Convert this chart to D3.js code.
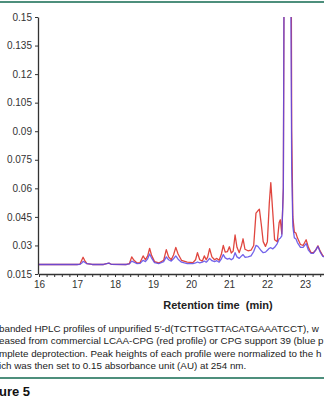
<!DOCTYPE html>
<html lang="en">
<head>
    <meta charset="UTF-8">
    <title>HPLC profiles</title>
    <script src="https://d3js.org/d3.v7.min.js"></script>
    <style>
        body { margin: 0; background: #fff; }
        svg { display: block; font-family: "Liberation Sans", Arial, sans-serif; }
    </style>
</head>
<body>
    <svg id="chart"></svg>
    <script>
        // retention time (min)
        const times = [16.00, 16.50, 17.00, 17.08, 17.13, 17.16, 17.20, 17.26, 17.40, 17.70, 17.78, 17.84, 17.90,
            18.30, 18.38, 18.44, 18.50, 18.58, 18.66, 18.74, 18.80, 18.86, 18.91, 18.96, 19.04, 19.15, 19.28,
            19.35, 19.41, 19.48, 19.54, 19.60, 19.66, 19.75, 19.90, 20.05, 20.12, 20.17, 20.23, 20.30, 20.35,
            20.40, 20.44, 20.49, 20.55, 20.62, 20.68, 20.74, 20.80, 20.85, 20.90, 20.96, 21.01, 21.06, 21.11,
            21.16, 21.21, 21.27, 21.33, 21.37, 21.42, 21.50, 21.58, 21.65, 21.71, 21.76, 21.80, 21.85, 21.90,
            21.96, 22.01, 22.06, 22.10, 22.15, 22.20, 22.27, 22.32, 22.35, 22.39, 22.43, 22.46, 22.54, 22.63,
            22.65, 22.68, 22.72, 22.76, 22.80, 22.88, 22.95, 23.03, 23.09, 23.16, 23.22, 23.28, 23.34, 23.40,
            23.47, 23.55, 23.70, 24.00];

        // LCAA-CPG (red profile), AU
        const redProfile = [0.0200, 0.0200, 0.0200, 0.0202, 0.0225, 0.0238, 0.0222, 0.0205, 0.0200, 0.0200, 0.0205, 0.0207, 0.0201,
            0.0200, 0.0205, 0.0240, 0.0222, 0.0208, 0.0210, 0.0245, 0.0225, 0.0245, 0.0285, 0.0250, 0.0215, 0.0208, 0.0222,
            0.0278, 0.0240, 0.0225, 0.0250, 0.0290, 0.0255, 0.0222, 0.0212, 0.0210, 0.0225, 0.0262, 0.0225, 0.0218, 0.0245,
            0.0225, 0.0240, 0.0283, 0.0240, 0.0225, 0.0232, 0.0222, 0.0255, 0.0300, 0.0265, 0.0268, 0.0293, 0.0260, 0.0270,
            0.0355, 0.0290, 0.0262, 0.0300, 0.0335, 0.0280, 0.0272, 0.0275, 0.0300, 0.0470, 0.0482, 0.0490, 0.0410, 0.0320,
            0.0295, 0.0320, 0.0520, 0.0630, 0.0480, 0.0330, 0.0320, 0.0420, 0.0435, 0.0360, 0.0600, 0.2300, 0.2600, 0.2300,
            0.0900, 0.0450, 0.0370, 0.0365, 0.0340, 0.0305, 0.0300, 0.0330, 0.0290, 0.0262, 0.0262, 0.0275, 0.0298, 0.0270,
            0.0245, 0.0240, 0.0235, 0.0232];

        // CPG support 39 (blue profile), AU
        const blueProfile = [0.0200, 0.0200, 0.0200, 0.0201, 0.0208, 0.0216, 0.0212, 0.0204, 0.0200, 0.0200, 0.0205, 0.0207, 0.0201,
            0.0200, 0.0203, 0.0218, 0.0212, 0.0205, 0.0206, 0.0222, 0.0215, 0.0230, 0.0255, 0.0235, 0.0210, 0.0205, 0.0215,
            0.0240, 0.0225, 0.0218, 0.0230, 0.0245, 0.0228, 0.0212, 0.0205, 0.0204, 0.0208, 0.0213, 0.0208, 0.0212, 0.0218,
            0.0212, 0.0220, 0.0232, 0.0220, 0.0215, 0.0220, 0.0212, 0.0230, 0.0252, 0.0235, 0.0228, 0.0232, 0.0225, 0.0232,
            0.0262, 0.0240, 0.0232, 0.0245, 0.0252, 0.0238, 0.0240, 0.0245, 0.0268, 0.0300, 0.0295, 0.0285, 0.0272, 0.0262,
            0.0265, 0.0275, 0.0285, 0.0288, 0.0282, 0.0290, 0.0310, 0.0335, 0.0338, 0.0350, 0.0600, 0.2300, 0.2600, 0.1500,
            0.0700, 0.0400, 0.0340, 0.0335, 0.0315, 0.0290, 0.0290, 0.0310, 0.0275, 0.0258, 0.0258, 0.0275, 0.0295, 0.0265,
            0.0242, 0.0238, 0.0233, 0.0230];

        const xTicks = [16, 17, 18, 19, 20, 21, 22, 23];
        const yTicks = [0.015, 0.03, 0.045, 0.06, 0.075, 0.09, 0.105, 0.12, 0.135, 0.15];
        const yTickLabels = ["0.015", "0.03", "0.045", "0.06", "0.075", "0.09", "0.105", "0.12", "0.135", "0.15"];

        const captionLines = [
            "banded HPLC profiles of unpurified 5\u2032-d(TCTTGGTTACATGAAATCCT), w",
            "eased from commercial LCAA-CPG (red profile) or CPG support 39 (blue p",
            "mplete deprotection. Peak heights of each profile were normalized to the h",
            "ich was then set to 0.15 absorbance unit (AU) at 254 nm."
        ];

        const width = 324, height = 400;
        const svg = d3.select("#chart").attr("width", width).attr("height", height);

        const x = d3.scaleLinear().domain([16, 24]).range([39, 343]);
        const y = d3.scaleLinear().domain([0.015, 0.15]).range([274, 17]);

        // green frame rules
        svg.append("rect").attr("x", 0).attr("y", 1).attr("width", width).attr("height", 2).attr("fill", "#4d8f7c");
        svg.append("rect").attr("x", 0).attr("y", 377).attr("width", width).attr("height", 2).attr("fill", "#4d8f7c");

        svg.append("clipPath").attr("id", "plot-clip")
            .append("rect").attr("x", 38).attr("y", 17).attr("width", width - 38).attr("height", 257);

        const data = times.map((t, i) => ({ t: t, red: redProfile[i], blue: blueProfile[i] }));

        const lineRed = d3.line().x(d => x(d.t)).y(d => y(d.red));
        const lineBlue = d3.line().x(d => x(d.t)).y(d => y(d.blue));

        const plot = svg.append("g").attr("clip-path", "url(#plot-clip)");
        plot.append("path").datum(data).attr("d", lineRed)
            .attr("fill", "none").attr("stroke", "#e0463f").attr("stroke-width", 1.3).attr("stroke-linejoin", "round");
        plot.append("path").datum(data).attr("d", lineBlue)
            .attr("fill", "none").attr("stroke", "#5a48e6").attr("stroke-width", 1.3).attr("stroke-opacity", 0.85)
            .attr("stroke-linejoin", "round");

        // x axis with minor ticks every 0.2 min
        const minor = d3.range(16, 24.01, 0.2).map(v => +v.toFixed(1));
        const xMinor = svg.append("g").attr("transform", "translate(0,274)")
            .call(d3.axisBottom(x).tickValues(minor).tickSize(3).tickFormat(""));
        xMinor.select(".domain").remove();
        xMinor.selectAll("line").attr("stroke", "#333");

        const xAxis = svg.append("g").attr("transform", "translate(0,274)")
            .call(d3.axisBottom(x).tickValues(xTicks).tickSize(3).tickSizeOuter(0).tickPadding(4).tickFormat(d3.format("d")));
        xAxis.select(".domain").attr("stroke", "#333").attr("stroke-width", 1.3);
        xAxis.selectAll("line").attr("stroke", "#333");
        xAxis.selectAll("text").attr("font-size", 10).attr("fill", "#333")
            .attr("font-family", "'Liberation Sans', Arial, sans-serif");

        const yAxis = svg.append("g").attr("transform", "translate(38,0)")
            .call(d3.axisLeft(y).tickValues(yTicks).tickSize(3).tickSizeOuter(0).tickPadding(3)
                .tickFormat((d, i) => yTickLabels[i]));
        yAxis.select(".domain").attr("stroke", "#333").attr("stroke-width", 1.3);
        yAxis.selectAll("line").attr("stroke", "#333");
        yAxis.selectAll("text").attr("font-size", 10).attr("fill", "#333")
            .attr("font-family", "'Liberation Sans', Arial, sans-serif");

        svg.append("text").attr("x", 218).attr("y", 309).attr("text-anchor", "middle")
            .attr("font-size", 11).attr("font-weight", "bold").attr("fill", "#222")
            .attr("xml:space", "preserve").text("Retention time  (min)");

        svg.selectAll(".caption").data(captionLines).join("text")
            .attr("class", "caption")
            .attr("x", -1).attr("y", (d, i) => 332 + i * 12.3)
            .attr("font-size", 9.8).attr("fill", "#222")
            .text(d => d);

        svg.append("text").attr("x", -1).attr("y", 396)
            .attr("font-size", 13).attr("font-weight", "bold").attr("fill", "#111")
            .text("ure 5");
    </script>
</body>
</html>
